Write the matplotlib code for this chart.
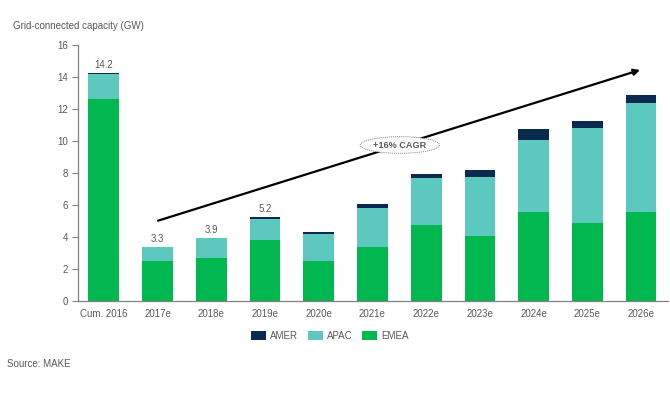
import matplotlib
matplotlib.use("Agg")
import matplotlib.pyplot as plt
import numpy as np

plt.rcParams['font.family'] = ['Liberation Sans', 'DejaVu Sans']

categories = ["Cum. 2016", "2017e", "2018e", "2019e", "2020e", "2021e",
              "2022e", "2023e", "2024e", "2025e", "2026e"]
emea = [12.6, 2.5, 2.65, 3.8, 2.5, 3.35, 4.75, 4.05, 5.55, 4.85, 5.55]
apac = [1.55, 0.85, 1.25, 1.33, 1.69, 2.46, 2.9, 3.7, 4.49, 5.92, 6.81]
amer = [0.06, 0.0, 0.0, 0.07, 0.08, 0.23, 0.27, 0.42, 0.71, 0.44, 0.48]
total_labels = {0: "14.2", 1: "3.3", 2: "3.9", 3: "5.2"}
yticks = [0, 2, 4, 6, 8, 10, 12, 14, 16]

c_emea = "#00B84F"
c_apac = "#5CC8BE"
c_amer = "#0B2A4F"
gray = "#595959"

fig = plt.figure(figsize=(6.7, 3.97), dpi=100)
ax = fig.add_axes([0.1164, 0.2426, 0.8806, 0.6448])

x = np.arange(len(categories))
e = np.array(emea); a = np.array(apac); m = np.array(amer)
w = 0.57
ax.bar(x, e, w, color=c_emea, label="EMEA", zorder=2)
ax.bar(x, a, w, bottom=e, color=c_apac, label="APAC", zorder=2)
ax.bar(x, m, w, bottom=e + a, color=c_amer, label="AMER", zorder=2)

tot = e + a + m
for i, s in total_labels.items():
    ax.text(x[i], tot[i] + 0.2, s, ha="center", va="bottom", fontsize=7, color=gray)

ax.set_xlim(-0.48, 10.5)
ax.set_ylim(0, 16)
ax.set_yticks(yticks)
ax.set_xticks(x)
ax.set_xticklabels(categories)
ax.tick_params(axis="x", length=0, pad=6, labelsize=7, labelcolor=gray)
ax.tick_params(axis="y", length=4, width=0.8, color="#808080", pad=3, labelsize=7, labelcolor=gray)
for sp in ["top", "right"]:
    ax.spines[sp].set_visible(False)
for sp in ["left", "bottom"]:
    ax.spines[sp].set_color("#808080")
    ax.spines[sp].set_linewidth(0.9)

# CAGR arrow
ax.annotate("", xy=(9.98, 14.42), xytext=(1.01, 5.0),
            arrowprops=dict(arrowstyle="-|>", color="black", lw=1.6,
                            mutation_scale=9, shrinkA=0, shrinkB=0), zorder=3)
ax.text(5.51, 9.73, "+16% CAGR", ha="center", va="center", fontsize=6.6,
        fontweight="bold", color=gray, zorder=4,
        bbox=dict(boxstyle="ellipse,pad=0.15", fc="white", ec="#808080", lw=0.7, ls=(0, (1, 1))))

fig.text(13 / 670, 1 - 26 / 397, "Grid-connected capacity (GW)", ha="left", va="center",
         fontsize=7, color=gray)
fig.text(7 / 670, 1 - 364 / 397, "Source: MAKE", ha="left", va="center", fontsize=7, color=gray)

handles, labels = ax.get_legend_handles_labels()
order = [2, 1, 0]
fig.legend([handles[i] for i in order], [labels[i] for i in order],
           loc="center", bbox_to_anchor=(330 / 670, 1 - 336 / 397), ncol=3, frameon=False,
           fontsize=7, labelcolor=gray, handlelength=1.55, handleheight=1.0,
           handletextpad=0.4, columnspacing=1.0, borderpad=0.2)

fig.savefig("out.png", dpi=100, facecolor="white")
